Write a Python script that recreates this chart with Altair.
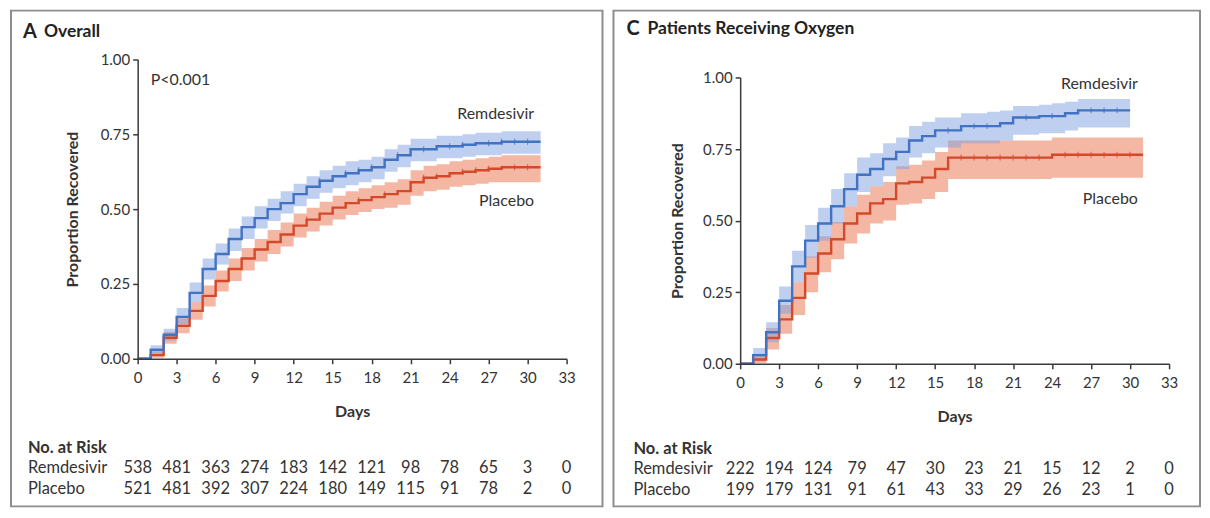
import altair as alt
import pandas as pd

FONT = "Lato"
TXT = "#333333"
AXC = "#3a3a3a"
BLUE_LINE = "#4272c2"
RED_LINE = "#d6482a"
BLUE_BAND = "#7f9fe0"
RED_BAND = "#e8704a"

RISK_DAYS = [0, 3, 6, 9, 12, 15, 18, 21, 24, 27, 30, 33]
Y_TICKS = [0, 0.25, 0.5, 0.75, 1.0]
ROWS = ["No. at Risk", "Remdesivir", "Placebo"]

# ---------------- Panel A: Overall ----------------
A_days = list(range(32))
A_rem = [0, 0.03, 0.08, 0.14, 0.22, 0.30, 0.35, 0.40, 0.44, 0.47, 0.50, 0.52, 0.55, 0.575, 0.595,
         0.61, 0.62, 0.63, 0.64, 0.665, 0.68, 0.70, 0.70, 0.71, 0.71, 0.715, 0.72, 0.72, 0.725, 0.725,
         0.725, 0.725]
A_rem_lo = [0, 0.015, 0.06, 0.115, 0.19, 0.265, 0.315, 0.36, 0.40, 0.435, 0.46, 0.485, 0.51, 0.535, 0.555,
            0.57, 0.58, 0.59, 0.60, 0.625, 0.64, 0.66, 0.66, 0.67, 0.67, 0.675, 0.68, 0.68, 0.685, 0.685,
            0.685, 0.685]
A_rem_hi = [0, 0.045, 0.10, 0.17, 0.255, 0.335, 0.385, 0.435, 0.475, 0.51, 0.535, 0.56, 0.585, 0.61, 0.63,
            0.645, 0.66, 0.665, 0.675, 0.70, 0.715, 0.735, 0.735, 0.745, 0.745, 0.75, 0.755, 0.755, 0.76, 0.76,
            0.76, 0.76]
A_pla = [0, 0.012, 0.07, 0.11, 0.16, 0.21, 0.26, 0.30, 0.335, 0.365, 0.39, 0.415, 0.445, 0.465, 0.485,
         0.505, 0.52, 0.53, 0.54, 0.55, 0.56, 0.59, 0.605, 0.61, 0.62, 0.625, 0.63, 0.635, 0.64, 0.64,
         0.64, 0.64]
A_pla_lo = [0, 0.003, 0.05, 0.085, 0.13, 0.175, 0.225, 0.26, 0.295, 0.325, 0.35, 0.375, 0.405, 0.425, 0.445,
            0.465, 0.48, 0.49, 0.50, 0.505, 0.515, 0.545, 0.56, 0.565, 0.575, 0.58, 0.585, 0.59, 0.59, 0.59,
            0.59, 0.59]
A_pla_hi = [0, 0.025, 0.09, 0.135, 0.19, 0.245, 0.295, 0.335, 0.37, 0.40, 0.43, 0.455, 0.485, 0.505, 0.525,
            0.545, 0.56, 0.57, 0.58, 0.59, 0.60, 0.63, 0.645, 0.65, 0.66, 0.665, 0.67, 0.675, 0.68, 0.68,
            0.68, 0.68]
A_rem_cens = [14, 16, 17, 18, 20, 22, 24, 25, 27, 28, 29, 30]
A_pla_cens = [13, 17, 19, 22, 23, 25, 26, 27, 29, 30]
A_risk_rem = [538, 481, 363, 274, 183, 142, 121, 98, 78, 65, 3, 0]
A_risk_pla = [521, 481, 392, 307, 224, 180, 149, 115, 91, 78, 2, 0]

# ---------------- Panel C: Patients Receiving Oxygen ----------------
C_rem_days = list(range(31))
C_rem = [0, 0.03, 0.11, 0.22, 0.34, 0.43, 0.49, 0.55, 0.61, 0.66, 0.68, 0.715, 0.74, 0.78, 0.795,
         0.815, 0.815, 0.83, 0.83, 0.83, 0.84, 0.86, 0.86, 0.865, 0.865, 0.875, 0.885, 0.885, 0.885, 0.885,
         0.885]
C_rem_lo = [0, 0.01, 0.075, 0.175, 0.285, 0.37, 0.43, 0.49, 0.55, 0.60, 0.62, 0.655, 0.68, 0.72, 0.735,
            0.755, 0.755, 0.77, 0.77, 0.77, 0.78, 0.80, 0.80, 0.805, 0.805, 0.815, 0.825, 0.825, 0.825, 0.825,
            0.825]
C_rem_hi = [0, 0.055, 0.145, 0.27, 0.395, 0.485, 0.545, 0.61, 0.665, 0.72, 0.735, 0.77, 0.79, 0.83, 0.845,
            0.86, 0.86, 0.875, 0.875, 0.88, 0.885, 0.90, 0.90, 0.905, 0.91, 0.915, 0.925, 0.925, 0.925, 0.925,
            0.925]
C_pla_days = list(range(32))
C_pla = [0, 0.015, 0.09, 0.155, 0.23, 0.315, 0.385, 0.435, 0.49, 0.525, 0.56, 0.575, 0.63, 0.635, 0.65,
         0.68, 0.72, 0.72, 0.72, 0.72, 0.72, 0.72, 0.72, 0.72, 0.73, 0.73, 0.73, 0.73, 0.73, 0.73,
         0.73, 0.73]
C_pla_lo = [0, 0.003, 0.05, 0.105, 0.17, 0.25, 0.32, 0.365, 0.42, 0.455, 0.49, 0.50, 0.555, 0.56, 0.575,
            0.60, 0.645, 0.645, 0.645, 0.645, 0.645, 0.645, 0.645, 0.645, 0.65, 0.65, 0.65, 0.65, 0.65, 0.65,
            0.65, 0.65]
C_pla_hi = [0, 0.035, 0.125, 0.205, 0.285, 0.375, 0.445, 0.495, 0.55, 0.59, 0.62, 0.635, 0.69, 0.695, 0.71,
            0.74, 0.78, 0.78, 0.78, 0.78, 0.78, 0.78, 0.78, 0.78, 0.79, 0.79, 0.79, 0.79, 0.79, 0.79,
            0.79, 0.79]
C_rem_cens = [16, 18, 19, 22, 24, 27, 28, 29]
C_pla_cens = [17, 18, 19, 20, 21, 22, 23, 25, 26, 27, 28, 29, 30]
C_risk_rem = [222, 194, 124, 79, 47, 30, 23, 21, 15, 12, 2, 0]
C_risk_pla = [199, 179, 131, 91, 61, 43, 33, 29, 26, 23, 1, 0]


def step_value(days, vals, d):
    idx = max(i for i, t in enumerate(days) if t <= d)
    return vals[idx]


def curve_df(days, val, lo, hi):
    return pd.DataFrame({"day": days, "val": val, "lo": lo, "hi": hi})


def cens_df(days, val, cens):
    return pd.DataFrame({"day": cens, "val": [step_value(days, val, d) for d in cens]})


def panel(letter, title, title_dx, title_dy, height, y_range, rem, pla, rem_c, pla_c,
          risk_rem, risk_pla, ann_right, ann_left, table_range, label_dx, rect_x2, ytitle_pad):
    xs = alt.Scale(domain=[0, 33], nice=False, zero=False)
    ys = alt.Scale(domain=[0, 1], range=y_range, nice=False, zero=False)
    ts = alt.Scale(type="point", domain=ROWS, range=table_range, padding=0)

    xaxis = alt.Axis(values=RISK_DAYS, format="d", title="Days", grid=False, domain=True, ticks=True,
                     zindex=1, domainColor=AXC, domainWidth=1.5, tickColor=AXC, tickWidth=1.5, tickSize=5,
                     labelFontSize=15, labelColor=TXT, labelPadding=7, labelFlush=False,
                     labelOverlap=False, titleFontSize=16, titleFontWeight="bold",
                     titleColor=TXT, titlePadding=18)
    yaxis = alt.Axis(values=Y_TICKS, format=".2f", title="Proportion Recovered", grid=False,
                     domain=True, ticks=True, zindex=1,
                     domainColor=AXC, domainWidth=1.5, tickColor=AXC, tickWidth=1.5, tickSize=5,
                     labelFontSize=15, labelColor=TXT, labelPadding=3, labelFlush=False,
                     labelOverlap=False, titleFontSize=16, titleFontWeight="bold",
                     titleColor=TXT, titlePadding=ytitle_pad)

    def X(f="day"):
        return alt.X(f + ":Q", scale=xs, axis=xaxis)

    def Y(f):
        return alt.Y(f + ":Q", scale=ys, axis=yaxis, stack=None)

    layers = []
    for df, col in [(pla, RED_BAND), (rem, BLUE_BAND)]:
        layers.append(alt.Chart(df).mark_area(interpolate="step-after", color=col, fillOpacity=0.5)
                      .encode(x=X(), y=Y("lo"), y2="hi:Q"))
    for df, col in [(pla, RED_LINE), (rem, BLUE_LINE)]:
        layers.append(alt.Chart(df).mark_line(interpolate="step-after", color=col, strokeWidth=2.4)
                      .encode(x=X(), y=Y("val")))
    for df, col in [(pla_c, RED_LINE), (rem_c, BLUE_LINE)]:
        layers.append(alt.Chart(df).mark_tick(orient="vertical", color=col, size=6, thickness=1.2)
                      .encode(x=X(), y=Y("val")))
    layers.append(alt.Chart(ann_right).mark_text(align="right", baseline="middle", fontSize=16,
                                                 color=TXT)
                  .encode(x=X("x"), y=Y("y"), text="label:N"))
    if ann_left is not None:
        layers.append(alt.Chart(ann_left).mark_text(align="left", baseline="middle", fontSize=16,
                                                    color=TXT)
                      .encode(x=X("x"), y=Y("y"), text="label:N"))
    plot_group = alt.layer(*layers)

    risk = pd.DataFrame({
        "day": RISK_DAYS * 2,
        "row": ["Remdesivir"] * len(RISK_DAYS) + ["Placebo"] * len(RISK_DAYS),
        "n": risk_rem + risk_pla,
    })
    row_lab = pd.DataFrame({"row": ROWS[1:]})
    head_lab = pd.DataFrame({"row": ROWS[:1]})
    nums = alt.Chart(risk).mark_text(align="center", baseline="middle", fontSize=16.5, color=TXT).encode(
        x=alt.X("day:Q", scale=xs, axis=xaxis),
        y=alt.Y("row:N", scale=ts, axis=None),
        text="n:Q")
    labs = alt.Chart(row_lab).mark_text(align="left", baseline="middle", fontSize=16.5, color=TXT).encode(
        x=alt.value(label_dx), y=alt.Y("row:N", scale=ts, axis=None), text="row:N")
    head = alt.Chart(head_lab).mark_text(align="left", baseline="middle", fontSize=16.5,
                                         fontWeight="bold", color=TXT).encode(
        x=alt.value(label_dx), y=alt.Y("row:N", scale=ts, axis=None), text="row:N")
    table_group = alt.layer(nums, labs, head)

    one = pd.DataFrame({"k": [0]})
    frame = alt.Chart(one).mark_rect(fill="transparent", fillOpacity=0, stroke="#8d8d8d",
                                     strokeWidth=2).encode(
        x=alt.value(-127), x2=alt.value(rect_x2), y=alt.value(-49), y2=alt.value(448))
    t_letter = alt.Chart(one).mark_text(text=letter, align="left", baseline="middle", fontSize=20,
                                        fontWeight="bold", color="#222222").encode(
        x=alt.value(title_dx), y=alt.value(title_dy))
    t_text = alt.Chart(one).mark_text(text=title, align="left", baseline="middle", fontSize=17.5,
                                      fontWeight="bold", color="#222222").encode(
        x=alt.value(title_dx + 21), y=alt.value(title_dy))
    deco = alt.layer(frame, t_letter, t_text)

    return alt.layer(plot_group, table_group, deco).resolve_scale(y="independent").properties(
        width=430, height=height)


annA_r = pd.DataFrame({"label": ["Remdesivir", "Placebo"], "x": [30.5, 30.5], "y": [0.818, 0.527]})
annA_l = pd.DataFrame({"label": ["P<0.001"], "x": [1.0], "y": [0.933]})
annC_r = pd.DataFrame({"label": ["Remdesivir", "Placebo"], "x": [30.6, 30.6], "y": [0.976, 0.575]})

pA = panel("A", "Overall", -115, -28, 300, [300, 0],
           curve_df(A_days, A_rem, A_rem_lo, A_rem_hi), curve_df(A_days, A_pla, A_pla_lo, A_pla_hi),
           cens_df(A_days, A_rem, A_rem_cens), cens_df(A_days, A_pla, A_pla_cens),
           A_risk_rem, A_risk_pla, annA_r, annA_l, [389, 431], -110, 466, 20)

pC = panel("C", "Patients Receiving Oxygen", -114, -31, 305, [305, 18],
           curve_df(C_rem_days, C_rem, C_rem_lo, C_rem_hi),
           curve_df(C_pla_days, C_pla, C_pla_lo, C_pla_hi),
           cens_df(C_rem_days, C_rem, C_rem_cens), cens_df(C_pla_days, C_pla, C_pla_cens),
           C_risk_rem, C_risk_pla, annC_r, None, [390, 432], -107, 461, 17)

chart = alt.hconcat(pA, pC, spacing=7).properties(
    padding={"left": 1, "top": 0, "right": 0, "bottom": 0}
).configure(font=FONT).configure_view(stroke="transparent")

chart.save("out.html", embed_options={"renderer": "svg", "actions": False})
